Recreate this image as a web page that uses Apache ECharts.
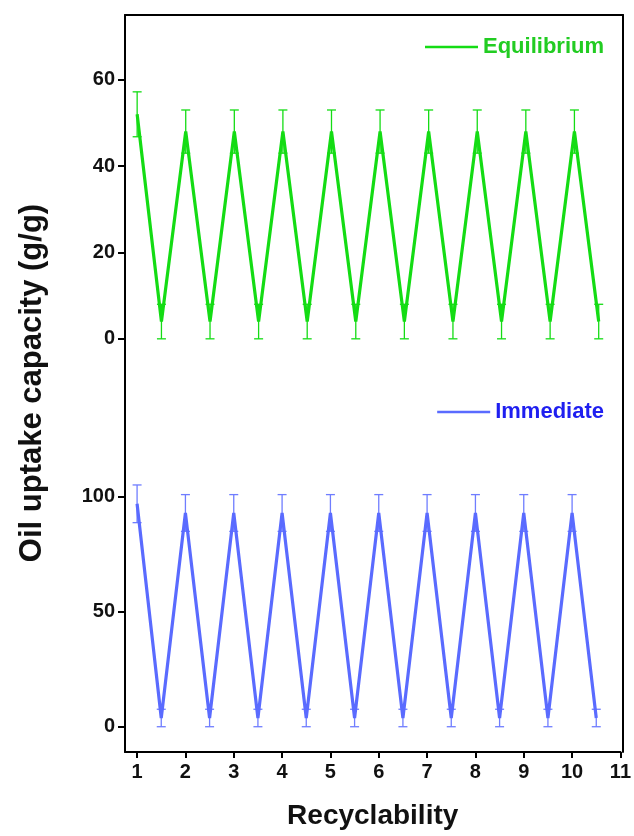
<!DOCTYPE html>
<html>
<head>
<meta charset="utf-8">
<script src="https://cdn.jsdelivr.net/npm/echarts@6/dist/echarts.min.js"></script>
<style>
html,body{margin:0;padding:0;background:#fff;}
#chart{width:634px;height:836px;}
</style>
</head>
<body>
<div id="chart"></div>
<script>
// ---- data ----
const xVals = [1, 1.5, 2, 2.5, 3, 3.5, 4, 4.5, 5, 5.5, 6, 6.5, 7, 7.5, 8, 8.5, 9, 9.5, 10, 10.5];
const eqMean = [52, 4, 48, 4, 48, 4, 48, 4, 48, 4, 48, 4, 48, 4, 48, 4, 48, 4, 48, 4];
const eqErr  = [5.2, 4, 5, 4, 5, 4, 5, 4, 5, 4, 5, 4, 5, 4, 5, 4, 5, 4, 5, 4];
const imMean = [97, 3.8, 93, 3.8, 93, 3.8, 93, 3.8, 93, 3.8, 93, 3.8, 93, 3.8, 93, 3.8, 93, 3.8, 93, 3.8];
const imErr  = [8.2, 3.8, 8, 3.8, 8, 3.8, 8, 3.8, 8, 3.8, 8, 3.8, 8, 3.8, 8, 3.8, 8, 3.8, 8, 3.8];
const xTicks = [1, 2, 3, 4, 5, 6, 7, 8, 9, 10, 11];
const eqTicks = [0, 20, 40, 60];
const imTicks = [0, 50, 100];

const FONT = '"Liberation Sans", Arial, sans-serif';
const GREEN = '#14dc14';
const BLUE = '#5a6bff';

const lineData = (m) => xVals.map((x, i) => [x, m[i]]);
const errData = (m, e) => xVals.map((x, i) => [x, m[i] - e[i], m[i] + e[i]]);

function errRender(color) {
  return function (params, api) {
    const x = api.value(0);
    const lo = api.coord([x, api.value(1)]);
    const hi = api.coord([x, api.value(2)]);
    const w = 4.5;
    const st = { stroke: color, lineWidth: 1.3 };
    return {
      type: 'group',
      children: [
        { type: 'line', shape: { x1: lo[0], y1: lo[1], x2: hi[0], y2: hi[1] }, style: st },
        { type: 'line', shape: { x1: lo[0] - w, y1: lo[1], x2: lo[0] + w, y2: lo[1] }, style: st },
        { type: 'line', shape: { x1: hi[0] - w, y1: hi[1], x2: hi[0] + w, y2: hi[1] }, style: st }
      ]
    };
  };
}

const axisLine = { show: true, onZero: false, lineStyle: { color: '#000', width: 2 } };
const tickLabel = { color: '#111', fontSize: 20, fontWeight: 'bold', fontFamily: FONT };
const bare = { axisTick: { show: false }, axisLabel: { show: false }, splitLine: { show: false } };

const option = {
  backgroundColor: '#fff',
  animation: false,
  grid: [
    { left: 125, right: 11, top: 15, height: 367 },
    { left: 125, right: 11, top: 382, height: 370 },
    { left: 125, right: 11, top: 15, height: 737 }
  ],
  xAxis: [
    { type: 'value', gridIndex: 0, min: 0.75, max: 11, position: 'bottom', show: false },
    { type: 'value', gridIndex: 2, min: 0.75, max: 11, position: 'top', axisLine: axisLine, ...bare },
    { type: 'value', gridIndex: 1, min: 0.75, max: 11, position: 'bottom',
      axisLine: axisLine,
      axisTick: { show: true, customValues: xTicks, length: 6, lineStyle: { color: '#000', width: 2 } },
      axisLabel: { customValues: xTicks, margin: 10, ...tickLabel },
      splitLine: { show: false },
      name: 'Recyclability', nameLocation: 'middle', nameGap: 50,
      nameTextStyle: { fontSize: 28, fontWeight: 'bold', color: '#111', fontFamily: FONT } }
  ],
  yAxis: [
    { type: 'value', gridIndex: 0, min: -10, max: 75, position: 'left',
      axisLine: axisLine,
      axisTick: { show: true, customValues: eqTicks, length: 7, lineStyle: { color: '#000', width: 2 } },
      axisLabel: { customValues: eqTicks, margin: 10, ...tickLabel },
      splitLine: { show: false } },
    { type: 'value', gridIndex: 2, min: 0, max: 1, position: 'right', axisLine: axisLine, ...bare },
    { type: 'value', gridIndex: 1, min: -11, max: 150, position: 'left',
      axisLine: axisLine,
      axisTick: { show: true, customValues: imTicks, length: 7, lineStyle: { color: '#000', width: 2 } },
      axisLabel: { customValues: imTicks, margin: 10, ...tickLabel },
      splitLine: { show: false } }
  ],
  legend: [
    { data: [{ name: 'Equilibrium', icon: 'rect', itemStyle: { color: GREEN }, textStyle: { color: '#22cc22' } }],
      right: 30, top: 36, padding: 0, itemWidth: 53, itemHeight: 2.5, itemGap: 5,
      textStyle: { fontSize: 22, fontWeight: 'bold', fontFamily: FONT, lineHeight: 22 } },
    { data: [{ name: 'Immediate', icon: 'rect', itemStyle: { color: BLUE }, textStyle: { color: '#1f1ff0' } }],
      right: 30, top: 401, padding: 0, itemWidth: 53, itemHeight: 2.5, itemGap: 5,
      textStyle: { fontSize: 22, fontWeight: 'bold', fontFamily: FONT, lineHeight: 22 } }
  ],
  graphic: [
    { type: 'text', x: 32, y: 383, rotation: Math.PI / 2,
      style: { text: 'Oil uptake capacity (g/g)', fontSize: 31, fontWeight: 'bold', fontFamily: FONT,
               fill: '#111', align: 'center', verticalAlign: 'middle' } }
  ],
  series: [
    { name: 'Equilibrium', type: 'line', xAxisIndex: 0, yAxisIndex: 0, data: lineData(eqMean),
      symbol: 'none', lineStyle: { color: GREEN, width: 3.2 }, itemStyle: { color: GREEN }, z: 3 },
    { name: 'EqErr', type: 'custom', xAxisIndex: 0, yAxisIndex: 0, data: errData(eqMean, eqErr),
      renderItem: errRender(GREEN), z: 2 },
    { name: 'Immediate', type: 'line', xAxisIndex: 2, yAxisIndex: 2, data: lineData(imMean),
      symbol: 'none', lineStyle: { color: BLUE, width: 3.2 }, itemStyle: { color: BLUE }, z: 3 },
    { name: 'ImErr', type: 'custom', xAxisIndex: 2, yAxisIndex: 2, data: errData(imMean, imErr),
      renderItem: errRender('#6f7dff'), z: 2 }
  ]
};

const chart = echarts.init(document.getElementById('chart'), null, { renderer: 'canvas' });
chart.setOption(option);
</script>
</body>
</html>
